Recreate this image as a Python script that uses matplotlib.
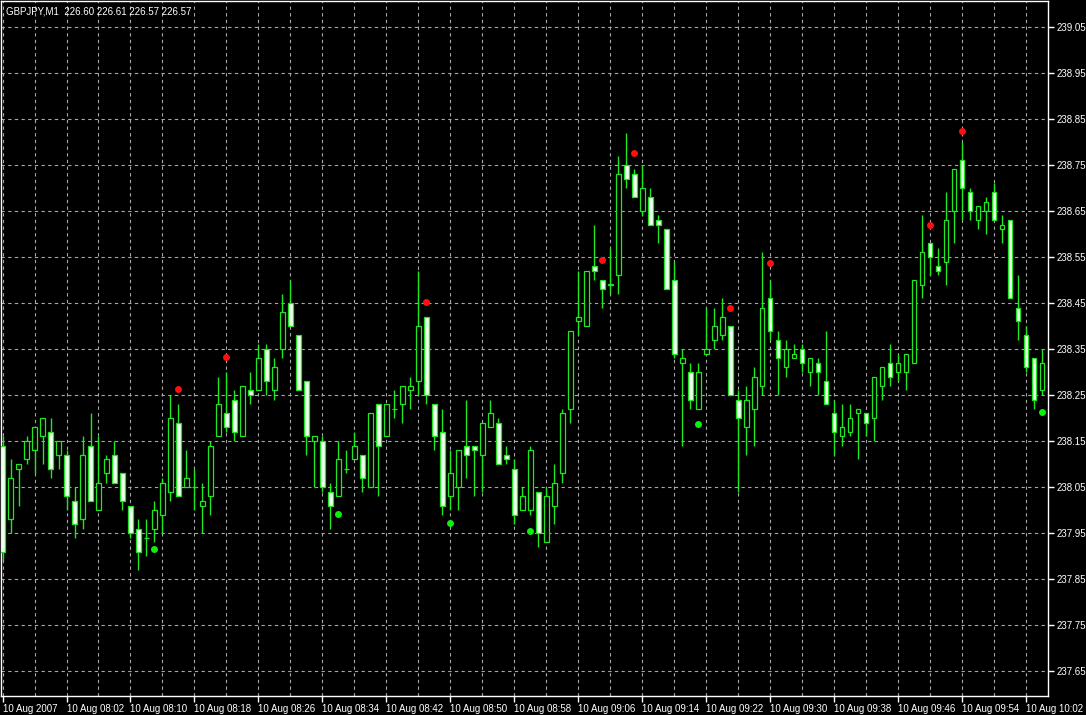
import numpy as np
import matplotlib.pyplot as plt

plt.rcParams["font.family"] = ["Liberation Sans", "DejaVu Sans"]

symbol_text = "GBPJPY,M1  226.60 226.61 226.57 226.57"

# one-minute bars, 10 Aug 2007 07:54 .. 10:04
opens = [238.14, 237.98, 238.09, 238.11, 238.13, 238.16, 238.17, 238.12, 238.12, 238.02,
         237.98, 238.14, 238.00, 238.08, 238.12, 238.08, 238.01, 237.96, 237.94, 237.96,
         237.99, 238.04, 238.19, 238.05, 238.05, 238.01, 238.03, 238.16, 238.21, 238.24,
         238.16, 238.26, 238.26, 238.35, 238.26, 238.35, 238.45, 238.38, 238.28, 238.15,
         238.15, 238.04, 238.03, 238.09, 238.11, 238.12, 238.05, 238.23, 238.16, 238.22,
         238.23, 238.26, 238.28, 238.42, 238.23, 238.17, 238.03, 238.05, 238.14, 238.14,
         238.12, 238.18, 238.19, 238.12, 238.09, 238.00, 238.00, 238.04, 237.93, 238.01,
         238.08, 238.22, 238.41, 238.40, 238.53, 238.50, 238.49, 238.51, 238.75, 238.73,
         238.65, 238.68, 238.63, 238.61, 238.50, 238.32, 238.30, 238.22, 238.34, 238.37,
         238.38, 238.40, 238.24, 238.18, 238.22, 238.27, 238.46, 238.37, 238.31, 238.33,
         238.35, 238.30, 238.32, 238.28, 238.21, 238.16, 238.17, 238.21, 238.21, 238.20,
         238.27, 238.32, 238.30, 238.30, 238.32, 238.49, 238.58, 238.53, 238.54, 238.65,
         238.76, 238.69, 238.63, 238.65, 238.69, 238.61, 238.63, 238.44, 238.38, 238.33,
         238.26]
highs = [238.16, 238.11, 238.10, 238.16, 238.18, 238.20, 238.20, 238.15, 238.13, 238.05,
         238.16, 238.21, 238.16, 238.12, 238.15, 238.08, 238.01, 237.98, 237.98, 238.02,
         238.07, 238.25, 238.23, 238.13, 238.09, 238.06, 238.15, 238.29, 238.30, 238.26,
         238.27, 238.30, 238.36, 238.36, 238.33, 238.47, 238.50, 238.38, 238.28, 238.16,
         238.16, 238.06, 238.15, 238.13, 238.17, 238.12, 238.21, 238.23, 238.23, 238.26,
         238.27, 238.29, 238.52, 238.42, 238.23, 238.22, 238.13, 238.13, 238.24, 238.14,
         238.19, 238.24, 238.20, 238.14, 238.11, 238.05, 238.14, 238.04, 238.05, 238.10,
         238.22, 238.39, 238.52, 238.52, 238.62, 238.50, 238.57, 238.77, 238.82, 238.74,
         238.75, 238.70, 238.64, 238.61, 238.54, 238.35, 238.32, 238.32, 238.44, 238.44,
         238.46, 238.40, 238.26, 238.27, 238.31, 238.56, 238.50, 238.39, 238.37, 238.36,
         238.36, 238.33, 238.33, 238.39, 238.24, 238.23, 238.23, 238.22, 238.21, 238.29,
         238.31, 238.36, 238.34, 238.34, 238.50, 238.64, 238.58, 238.57, 238.69, 238.74,
         238.80, 238.70, 238.66, 238.68, 238.71, 238.64, 238.63, 238.51, 238.40, 238.33,
         238.35]
lows = [237.89, 237.95, 238.01, 238.10, 238.08, 238.10, 238.07, 238.09, 238.00, 237.94,
        237.96, 238.02, 238.00, 238.06, 238.06, 238.00, 237.94, 237.87, 237.90, 237.93,
        237.95, 238.02, 238.03, 238.05, 238.00, 237.95, 237.99, 238.16, 238.17, 238.15,
        238.16, 238.23, 238.26, 238.25, 238.24, 238.33, 238.40, 238.26, 238.12, 238.05,
        238.04, 237.96, 238.03, 238.08, 238.11, 238.04, 238.05, 238.03, 238.16, 238.20,
        238.19, 238.22, 238.25, 238.23, 238.13, 237.99, 238.00, 238.00, 238.07, 238.03,
        238.04, 238.18, 238.10, 238.10, 237.97, 238.00, 237.99, 237.92, 237.93, 237.97,
        238.06, 238.19, 238.38, 238.40, 238.50, 238.44, 238.47, 238.47, 238.70, 238.68,
        238.64, 238.62, 238.58, 238.48, 238.33, 238.14, 238.22, 238.22, 238.34, 238.35,
        238.37, 238.25, 238.04, 238.12, 238.14, 238.25, 238.37, 238.25, 238.29, 238.33,
        238.30, 238.27, 238.25, 238.23, 238.12, 238.14, 238.16, 238.11, 238.16, 238.15,
        238.24, 238.27, 238.28, 238.26, 238.32, 238.46, 238.51, 238.51, 238.49, 238.58,
        238.63, 238.63, 238.61, 238.60, 238.63, 238.58, 238.46, 238.37, 238.30, 238.22,
        238.25]
closes = [237.91, 238.07, 238.10, 238.15, 238.18, 238.20, 238.09, 238.15, 238.03, 237.97,
          238.12, 238.02, 238.06, 238.11, 238.06, 238.02, 237.95, 237.91, 237.94, 238.00,
          238.06, 238.20, 238.03, 238.07, 238.05, 238.02, 238.14, 238.23, 238.18, 238.17,
          238.27, 238.25, 238.33, 238.28, 238.31, 238.43, 238.40, 238.26, 238.16, 238.16,
          238.05, 238.01, 238.11, 238.09, 238.14, 238.07, 238.21, 238.14, 238.23, 238.22,
          238.27, 238.27, 238.40, 238.25, 238.16, 238.01, 238.08, 238.13, 238.12, 238.13,
          238.19, 238.21, 238.10, 238.11, 237.99, 238.03, 238.13, 237.95, 238.03, 238.06,
          238.21, 238.39, 238.42, 238.52, 238.52, 238.48, 238.49, 238.73, 238.72, 238.68,
          238.70, 238.62, 238.62, 238.48, 238.34, 238.33, 238.24, 238.30, 238.35, 238.40,
          238.42, 238.25, 238.20, 238.24, 238.29, 238.44, 238.39, 238.33, 238.35, 238.34,
          238.32, 238.33, 238.30, 238.23, 238.17, 238.18, 238.20, 238.22, 238.19, 238.29,
          238.31, 238.29, 238.32, 238.34, 238.50, 238.56, 238.55, 238.52, 238.63, 238.74,
          238.70, 238.65, 238.66, 238.67, 238.63, 238.62, 238.46, 238.41, 238.31, 238.24,
          238.32]

# fractal-style markers (bar index, price)
up_marks_bar = [22, 28, 53, 75, 79, 91, 96, 116, 120]
up_marks_price = [238.263, 238.333, 238.452, 238.543, 238.776, 238.439, 238.537, 238.619, 238.823]
down_marks_bar = [19, 42, 56, 66, 87, 130]
down_marks_price = [237.916, 237.992, 237.973, 237.954, 238.187, 238.213]

time_labels = ["10 Aug 2007", "10 Aug 08:02", "10 Aug 08:10", "10 Aug 08:18", "10 Aug 08:26",
               "10 Aug 08:34", "10 Aug 08:42", "10 Aug 08:50", "10 Aug 08:58", "10 Aug 09:06",
               "10 Aug 09:14", "10 Aug 09:22", "10 Aug 09:30", "10 Aug 09:38", "10 Aug 09:46",
               "10 Aug 09:54", "10 Aug 10:02"]
price_labels = ["237.65", "237.75", "237.85", "237.95", "238.05", "238.15", "238.25", "238.35",
                "238.45", "238.55", "238.65", "238.75", "238.85", "238.95", "239.05"]

GREEN = "#1ee81e"
BEAR = "#f0fff0"
GRID = "#a8a8a8"

o, h, l, c = (np.array(v) for v in (opens, highs, lows, closes))
x = np.arange(len(o))
up = c >= o

fig = plt.figure(figsize=(10.86, 7.15), dpi=100, facecolor="black")
ax = fig.add_axes([0.0005, 19 / 715, 1047.5 / 1086, 695 / 715], facecolor="black")

ax.vlines(x, l, h, color=GREEN, lw=1.0, zorder=2)
body = np.maximum(np.abs(c - o), 0.0004)
ax.bar(x, body, bottom=np.minimum(o, c), width=0.58,
       color=np.where(up, "black", BEAR), edgecolor=GREEN, linewidth=0.9, zorder=3)

ax.plot(up_marks_bar, up_marks_price, "o", color="#ff1010", ms=5, mec="none", zorder=4)
ax.plot(down_marks_bar, down_marks_price, "o", color="#10ee10", ms=5, mec="none", zorder=4)

ax.set_xlim(-0.25, 130.75)
ax.set_ylim(237.5963, 239.1058)

ax.set_xticks(np.arange(0, 8 * len(time_labels), 8))
ax.set_xticklabels(time_labels, ha="left")
ax.set_xticks(np.arange(0, 131, 4), minor=True)
ax.set_yticks([float(p) for p in price_labels])
ax.set_yticklabels(price_labels)
ax.yaxis.tick_right()

ax.tick_params(axis="both", which="major", colors="white", labelsize=7, length=4, width=1,
               direction="out")
ax.tick_params(axis="x", which="minor", length=0)
ax.tick_params(axis="x", which="major", pad=2)
ax.tick_params(axis="y", which="major", pad=2)

ax.grid(True, axis="x", which="both", color=GRID, lw=0.8, linestyle=(0, (3, 3)), zorder=1)
ax.grid(True, axis="y", which="major", color=GRID, lw=0.8, linestyle=(0, (3, 3)), zorder=1)
for s in ax.spines.values():
    s.set_color("white")
    s.set_linewidth(1)

fig.text(6 / 1086, 1 - 11 / 715, symbol_text, color="white", fontsize=7, va="center", ha="left")

fig.savefig("out.png", dpi=100, facecolor="black")
